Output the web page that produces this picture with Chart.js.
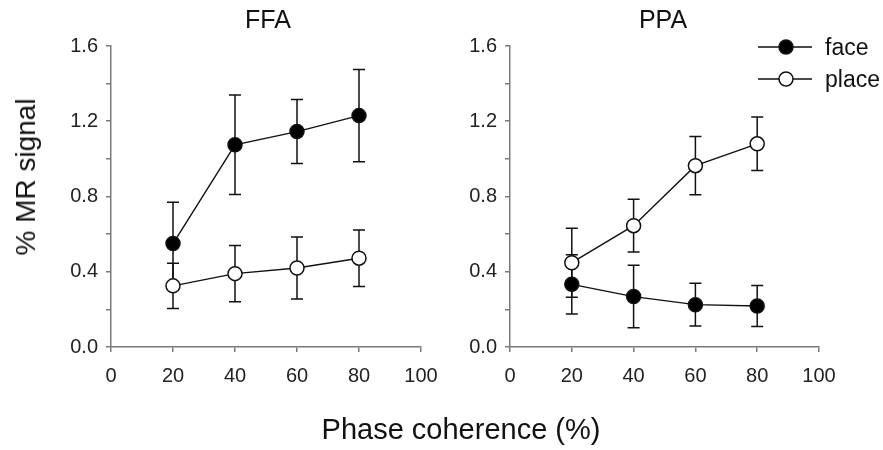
<!DOCTYPE html>
<html><head><meta charset="utf-8">
<script src="https://cdn.jsdelivr.net/npm/chart.js@4/dist/chart.umd.min.js"></script>
<style>
html,body{margin:0;padding:0;background:#fff;}
#wrap{position:relative;width:883px;height:450px;overflow:hidden;font-family:"Liberation Sans",Arial,sans-serif;color:#111;}
.cv{position:absolute;top:0;}
.t{position:absolute;white-space:nowrap;line-height:1;}
</style></head><body>
<div id="wrap">
<div class="cv" style="left:0;width:440px;height:450px"><canvas id="ffa" width="440" height="450"></canvas></div>
<div class="cv" style="left:440px;width:443px;height:450px"><canvas id="ppa" width="443" height="450"></canvas></div>
<div class="t" style="left:268px;top:7px;font-size:25px;transform:translateX(-50%)">FFA</div>
<div class="t" style="left:663px;top:7px;font-size:25px;transform:translateX(-50%)">PPA</div>
<div class="t" style="left:26px;top:177px;font-size:28px;transform:translate(-50%,-50%) rotate(-90deg)">% MR signal</div>
<div class="t" style="left:461px;top:415px;font-size:29px;transform:translateX(-50%)">Phase coherence (%)</div>
</div>
<script>
// ---- data ----
const coherence = [20, 40, 60, 80];
const ffaFace = [0.55, 1.075, 1.145, 1.23];
const ffaFaceErr = [0.22, 0.265, 0.17, 0.245];
const ffaPlace = [0.325, 0.39, 0.42, 0.472];
const ffaPlaceErr = [0.12, 0.15, 0.165, 0.15];
const ppaFace = [0.333, 0.268, 0.225, 0.218];
const ppaFaceErr = [0.157, 0.166, 0.114, 0.109];
const ppaPlace = [0.448, 0.645, 0.964, 1.08];
const ppaPlaceErr = [0.183, 0.14, 0.155, 0.142];
const xTickLabels = [0, 20, 40, 60, 80, 100];
const yTickLabels = [0.0, 0.4, 0.8, 1.2, 1.6];
const seriesNames = ['face', 'place'];

const AXIS = '#7a7a7a';
const INK = '#111';
const FONT = '"Liberation Sans", Arial, sans-serif';

const errorBars = {
  id: 'errorBars',
  beforeDatasetsDraw(chart) {
    const ctx = chart.ctx;
    const xs = chart.scales.x, ys = chart.scales.y;
    ctx.save();
    ctx.strokeStyle = INK;
    ctx.lineWidth = 1.5;
    chart.data.datasets.forEach(ds => {
      if (!ds.errors) return;
      ds.data.forEach((p, j) => {
        const e = ds.errors[j];
        const x = xs.getPixelForValue(p.x);
        const y1 = ys.getPixelForValue(p.y + e);
        const y2 = ys.getPixelForValue(p.y - e);
        ctx.beginPath();
        ctx.moveTo(x, y1); ctx.lineTo(x, y2);
        ctx.moveTo(x - 6, y1); ctx.lineTo(x + 6, y1);
        ctx.moveTo(x - 6, y2); ctx.lineTo(x + 6, y2);
        ctx.stroke();
      });
    });
    ctx.restore();
  }
};

const customLegend = {
  id: 'customLegend',
  afterDraw(chart, args, opts) {
    if (!opts.show) return;
    const ctx = chart.ctx;
    ctx.save();
    chart.data.datasets.forEach((ds, i) => {
      const y = opts.y0 + i * opts.dy;
      ctx.strokeStyle = INK;
      ctx.lineWidth = 1.4;
      ctx.beginPath();
      ctx.moveTo(opts.x0, y); ctx.lineTo(opts.x0 + 54, y);
      ctx.stroke();
      ctx.beginPath();
      ctx.arc(opts.x0 + 28, y, 7, 0, Math.PI * 2);
      ctx.fillStyle = ds.pointBackgroundColor;
      ctx.fill();
      ctx.lineWidth = 1.5;
      ctx.stroke();
      ctx.fillStyle = INK;
      ctx.font = '23px ' + FONT;
      ctx.textBaseline = 'middle';
      ctx.fillText(ds.label, opts.x0 + 67, y + 2);
    });
    ctx.restore();
  }
};

function makeDs(label, ys, errs, fill) {
  return {
    label: label,
    data: coherence.map((c, i) => ({ x: c, y: ys[i] })),
    errors: errs,
    borderColor: INK,
    borderWidth: 1.4,
    pointRadius: 7,
    pointHoverRadius: 7,
    pointBorderWidth: 1.5,
    pointBorderColor: INK,
    pointBackgroundColor: fill,
    tension: 0
  };
}

function makeChart(id, face, faceErr, place, placeErr, yWidth, padRight, legend) {
  return new Chart(document.getElementById(id), {
    type: 'line',
    data: {
      datasets: [
        makeDs(seriesNames[0], face, faceErr, '#000'),
        makeDs(seriesNames[1], place, placeErr, '#fff')
      ]
    },
    options: {
      responsive: false,
      animation: false,
      devicePixelRatio: 1,
      layout: { padding: { left: 0, right: padRight, top: 46, bottom: 63 } },
      plugins: {
        legend: { display: false },
        tooltip: { enabled: false },
        customLegend: legend
      },
      events: [],
      scales: {
        x: {
          type: 'linear', min: 0, max: 100,
          afterBuildTicks: s => { s.ticks = xTickLabels.map(v => ({ value: v })); },
          afterFit: s => { s.height = 40; s.paddingLeft = 0; s.paddingRight = 0; },
          ticks: { color: '#222', font: { size: 20, family: FONT }, padding: 12, maxRotation: 0 },
          grid: { drawOnChartArea: false, drawTicks: true, tickLength: 5, color: AXIS, lineWidth: 1.5 },
          border: { display: true, color: AXIS, width: 1.5 }
        },
        y: {
          type: 'linear', min: 0, max: 1.6,
          afterBuildTicks: s => {
            const t = [];
            for (let k = 0; k <= 8; k++) t.push({ value: k * 0.2 });
            s.ticks = t;
          },
          afterFit: s => { s.width = yWidth; s.paddingTop = 0; s.paddingBottom = 0; },
          ticks: {
            color: '#222', font: { size: 20, family: FONT }, padding: 8,
            callback: v => {
              const hit = yTickLabels.find(t => Math.abs(t - v) < 1e-6);
              return hit === undefined ? '' : hit.toFixed(1);
            }
          },
          grid: { drawOnChartArea: false, drawTicks: true, tickLength: 5, color: AXIS, lineWidth: 1.5 },
          border: { display: true, color: AXIS, width: 1.5 }
        }
      }
    },
    plugins: [errorBars, customLegend]
  });
}

makeChart('ffa', ffaFace, ffaFaceErr, ffaPlace, ffaPlaceErr, 111, 19, { show: false });
makeChart('ppa', ppaFace, ppaFaceErr, ppaPlace, ppaPlaceErr, 70, 64, { show: true, x0: 318, y0: 47, dy: 32 });
</script>
</body></html>
